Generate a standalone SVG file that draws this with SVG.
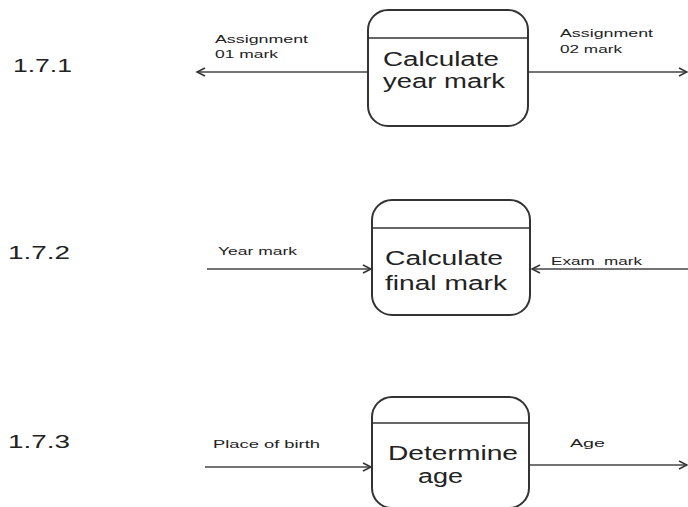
<svg xmlns="http://www.w3.org/2000/svg" width="688" height="507" viewBox="0 0 688 507">
<defs>
<marker id="arr" markerWidth="12" markerHeight="12" refX="9" refY="5" orient="auto" markerUnits="userSpaceOnUse">
<path d="M1,1 L9,5 L1,9" fill="none" stroke="#333" stroke-width="1.5"/>
</marker>
</defs>
<style>
.box{fill:#fff;stroke:#333;stroke-width:2}
.div{stroke:#333;stroke-width:1.5}
.big{font-family:"Liberation Sans",Arial,sans-serif;font-size:20px;fill:#222}
.num{font-family:"Liberation Sans",Arial,sans-serif;font-size:19px;fill:#222}
.small{font-family:"Liberation Sans",Arial,sans-serif;font-size:10.5px;fill:#222}
.flow{stroke:#444;stroke-width:1.6;fill:none;marker-end:url(#arr)}
</style>
<rect width="688" height="507" fill="#fff"/>
<g id="labels">
<text class="num" x="13" y="72" textLength="59" lengthAdjust="spacingAndGlyphs">1.7.1</text>
<text class="num" x="8" y="259" textLength="62" lengthAdjust="spacingAndGlyphs">1.7.2</text>
<text class="num" x="8" y="448" textLength="62" lengthAdjust="spacingAndGlyphs">1.7.3</text>
</g>
<g id="connectors">
<line class="flow" x1="368" y1="72" x2="197" y2="72"/>
<line class="flow" x1="528" y1="72" x2="687" y2="72"/>
<line class="flow" x1="207" y1="269" x2="371" y2="269"/>
<line class="flow" x1="688" y1="269" x2="532" y2="269"/>
<line class="flow" x1="205" y1="467" x2="371" y2="467"/>
<line class="flow" x1="529" y1="465" x2="687" y2="465"/>
<text class="small" x="215" y="43" textLength="93" lengthAdjust="spacingAndGlyphs">Assignment</text>
<text class="small" x="215" y="58" textLength="63" lengthAdjust="spacingAndGlyphs">01 mark</text>
<text class="small" x="560" y="37" textLength="93" lengthAdjust="spacingAndGlyphs">Assignment</text>
<text class="small" x="560" y="53" textLength="62" lengthAdjust="spacingAndGlyphs">02 mark</text>
<text class="small" x="218" y="255" textLength="79" lengthAdjust="spacingAndGlyphs">Year mark</text>
<text class="small" x="551" y="265" textLength="91" lengthAdjust="spacingAndGlyphs" xml:space="preserve">Exam  mark</text>
<text class="small" x="213" y="448" textLength="107" lengthAdjust="spacingAndGlyphs">Place of birth</text>
<text class="small" x="570" y="447" textLength="35" lengthAdjust="spacingAndGlyphs">Age</text>
</g>
<g id="node-year-mark">
<rect class="box" x="368" y="10" width="160" height="116" rx="20"/>
<line class="div" x1="368" y1="38" x2="528" y2="38"/>
<text class="big" x="383" y="66" textLength="116" lengthAdjust="spacingAndGlyphs">Calculate</text>
<text class="big" x="383" y="88" textLength="122" lengthAdjust="spacingAndGlyphs">year mark</text>
</g>
<g id="node-final-mark">
<rect class="box" x="372" y="200" width="158" height="115" rx="20"/>
<line class="div" x1="372" y1="228" x2="530" y2="228"/>
<text class="big" x="385" y="265" textLength="118" lengthAdjust="spacingAndGlyphs">Calculate</text>
<text class="big" x="385" y="290" textLength="122" lengthAdjust="spacingAndGlyphs">final mark</text>
</g>
<g id="node-age">
<rect class="box" x="372" y="397" width="157" height="111" rx="20"/>
<line class="div" x1="372" y1="423" x2="529" y2="423"/>
<text class="big" x="388" y="460" textLength="130" lengthAdjust="spacingAndGlyphs">Determine</text>
<text class="big" x="418" y="483" textLength="45" lengthAdjust="spacingAndGlyphs">age</text>
</g>
</svg>
